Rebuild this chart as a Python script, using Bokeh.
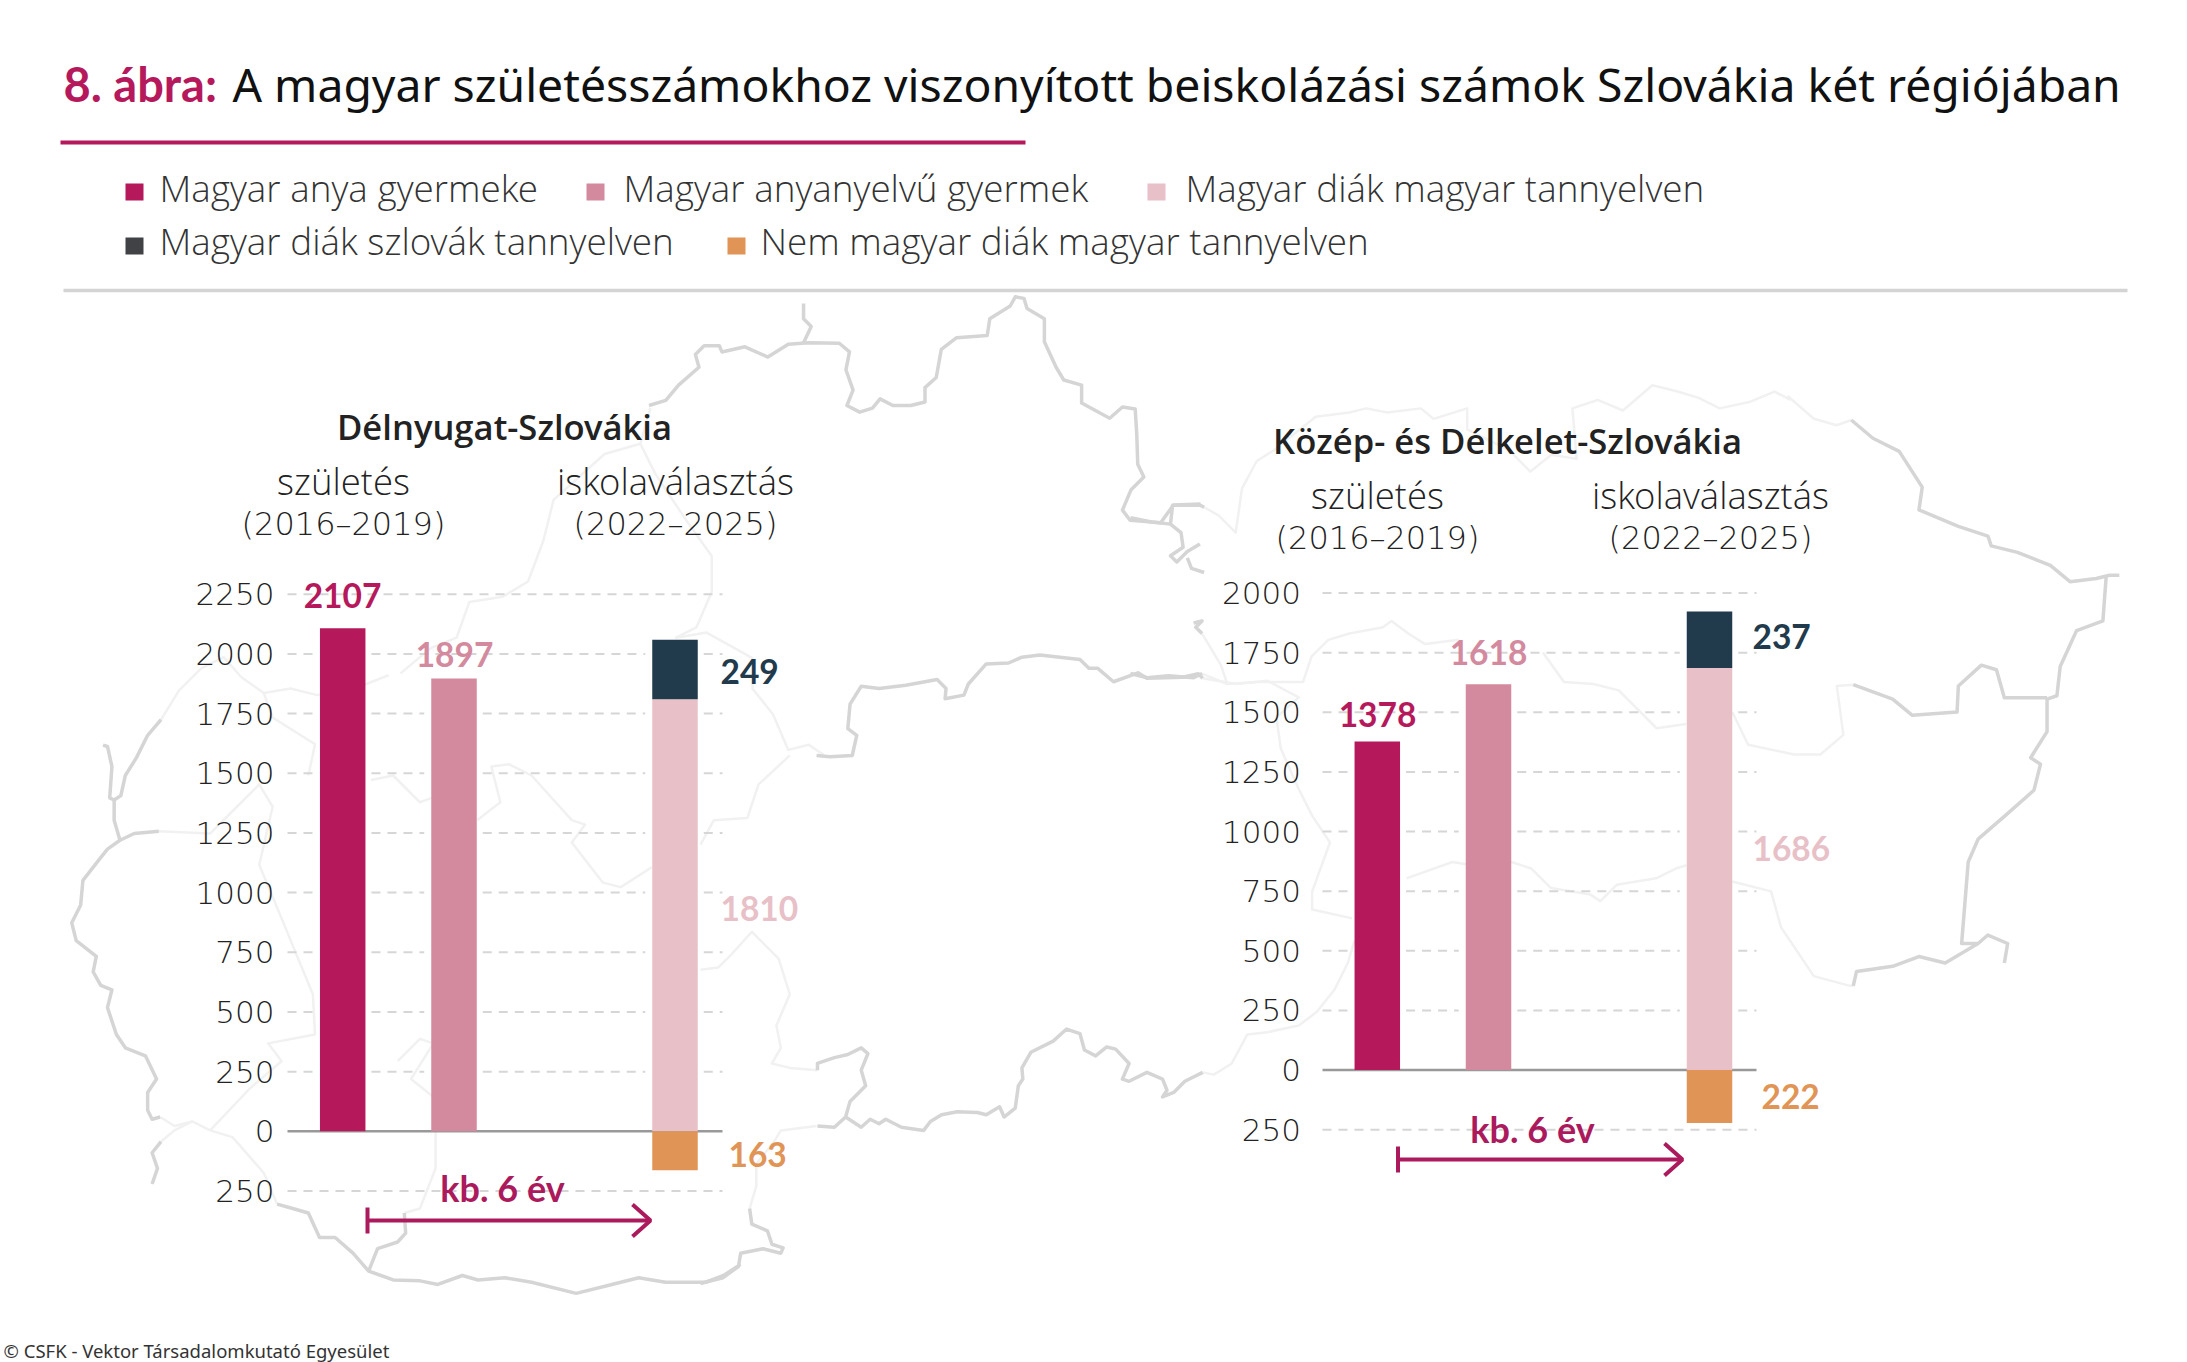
from bokeh.plotting import figure
from bokeh.models import Range1d, LinearAxis, FixedTicker
from bokeh.core.properties import value
from bokeh.embed import file_html
from bokeh.resources import INLINE

# ---------- data ----------
TICKS_LEFT = [-250, 0, 250, 500, 750, 1000, 1250, 1500, 1750, 2000, 2250]
TICKS_RIGHT = [-250, 0, 250, 500, 750, 1000, 1250, 1500, 1750, 2000]
LEFT_MOTHER = 2107
LEFT_NATIVE = 1897
LEFT_HU_SCHOOL = 1810
LEFT_SK_SCHOOL = 249
LEFT_NON_HU = 163
RIGHT_MOTHER = 1378
RIGHT_NATIVE = 1618
RIGHT_HU_SCHOOL = 1686
RIGHT_SK_SCHOOL = 237
RIGHT_NON_HU = 222
LEGEND = ["Magyar anya gyermeke", "Magyar anyanyelvű gyermek", "Magyar diák magyar tannyelven",
          "Magyar diák szlovák tannyelven", "Nem magyar diák magyar tannyelven"]

# ---------- colours / fonts ----------
MAG, PINK, LIGHT, NAVY, ORANGE = "#b5195c", "#d48a9e", "#e8c0c7", "#213a4c", "#e09456"
LEG_DARK = "#404245"
F_LIGHT = "Open Sans Light"
F_DIGIT = "DejaVu Sans Light"
F_REG = "Noto Sans"
F_SEMI = "Open Sans SemiBold"
F_VAL = "Lato"
W, H = 2187, 1362

p = figure(width=W, height=H, x_range=Range1d(0, W), y_range=Range1d(H, 0), output_backend="svg",
           toolbar_location=None, min_border=0, outline_line_color=None)
p.xaxis.visible = False
p.yaxis.visible = False
p.grid.visible = False


def z(pts, ox, oy, sx, sy=None):
    sy = sy or sx
    return [ox + a / sx for a, _ in pts], [oy + b / sy for _, b in pts]


Z4 = (40, 650, 2.24)
Z5 = (400, 280, 1.96)
Z6 = (700, 650, 2.24)
Z7 = (1130, 340, 1.522, 1.534)
Z8 = (1130, 370, 2.376)

STRONG = [
    (Z5, [(487,245),(520,235),(545,205),(585,170),(578,145),(595,128),(625,128),(630,140),(675,130),(720,150),(760,125),(800,122),(860,123),(880,140),(873,175),(887,215),(875,245),(900,258),(925,250),(940,232),(965,245),(1000,245),(1028,238),(1028,210),(1050,190),(1060,135),(1090,112),(1150,108),(1155,75),(1195,50),(1205,32),(1222,35),(1228,55),(1262,75),(1262,120),(1285,170),(1300,195),(1335,205),(1335,240),(1390,270),(1415,248),(1440,252),(1443,300),(1445,360),(1457,385),(1432,410),(1415,450),(1430,470),(1490,475),(1515,440),(1568,438)]),
    (Z5, [(790,45),(790,75),(805,90),(790,122)]),
    (Z8, [(0,350),(50,360),(95,365),(100,320),(165,320),(175,325)]),
    (Z8, [(95,365),(120,385),(125,420),(95,440),(110,455),(135,430),(165,412)]),
    (Z8, [(135,445),(145,470),(175,480)]),
    (Z8, [(0,720),(40,730),(90,725),(150,730),(170,720)]),
    (Z8, [(150,600),(170,595),(155,610),(170,625)]),
    (Z7, [(1097,122),(1130,150),(1170,170),(1205,225),(1200,260),(1260,285),(1305,300),(1310,315),(1350,325),(1400,345),(1430,370),(1470,365),(1490,360),(1505,360)]),
    (Z7, [(1485,362),(1480,430),(1440,445),(1415,500),(1410,545),(1395,550),(1395,600),(1370,640),(1385,650),(1375,690),(1330,730),(1290,765),(1275,800),(1265,925),(1290,925),(1305,912),(1335,925),(1330,955)]),
    (Z7, [(1395,548),(1330,548),(1318,505),(1295,498),(1260,530),(1258,570),(1190,575),(1160,550),(1100,528)]),
    (Z7, [(1100,990),(1105,968),(1160,960),(1200,945),(1240,955),(1265,940),(1290,925)]),
    (Z6, [(260,235),(290,238),(340,235),(350,190),(330,175),(335,120),(360,80),(400,85),(460,78),(530,65),(550,85),(548,108),(590,100),(600,75),(640,30),(690,28),(720,15),(760,10),(850,20),(870,40),(890,40),(925,70),(980,50),(1000,62),(1080,60),(1115,52),(1125,62)]),
    (Z6, [(262,940),(262,925),(300,912),(330,905),(360,890),(375,903),(360,940),(370,975),(335,1010),(325,1045),(300,1068),(262,1065)]),
    (Z6, [(325,1045),(360,1068),(380,1050),(400,1060),(415,1050),(450,1068),(500,1075),(515,1055),(540,1040),(575,1033),(620,1035),(640,1040),(670,1022),(680,1045),(705,1025),(712,975),(722,960),(720,935),(740,900),(790,875),(820,848),(850,858),(860,895),(885,908),(910,888),(930,893),(960,925),(945,960),(960,965),(1000,945),(1035,960),(1045,985),(1035,1000),(1060,990),(1085,965),(1125,945)]),
    (Z4, [(270,155),(240,190),(215,240),(190,280),(180,325),(165,335),(155,330),(160,260),(150,215),(140,212)]),
    (Z4, [(165,335),(165,380),(178,425),(150,445),(130,470),(95,515),(90,570),(70,610),(80,650),(125,685),(118,720),(135,750),(160,760),(150,800),(170,860),(190,890),(235,908),(260,960),(240,990),(240,1030),(250,1050),(268,1045)]),
    (Z4, [(178,425),(210,410),(265,405)]),
    (Z4, [(250,1195),(262,1160),(250,1125),(270,1100)]),
    (Z4, [(530,1240),(565,1250),(600,1260),(625,1315),(660,1315),(700,1350),(735,1390),(790,1410),(850,1412),(890,1420),(945,1400),(980,1410),(1040,1405),(1100,1415),(1200,1440),(1280,1420),(1340,1405),(1400,1415),(1490,1415),(1530,1400),(1568,1375)]),
    (Z4, [(735,1390),(755,1340),(800,1325),(818,1305),(815,1260)]),
    (Z6, [(0,1418),(50,1405),(85,1380),(90,1350),(140,1340),(180,1350),(185,1338),(160,1330),(150,1300),(115,1285),(110,1250)]),
]
FAINT = [
    (Z4, [(270,155),(310,90),(360,40),(410,15),(450,60),(500,95),(560,85),(620,100),(730,75),(780,55)]),
    (Z5, [(0,770),(60,720),(110,700),(135,630),(200,620),(250,590),(280,510),(300,430),(400,340),(470,320),(490,250)]),
    (Z5, [(470,320),(500,380),(560,470),(610,540),(610,610),(580,680),(540,700),(600,690),(690,740),(690,800),(730,850),(760,920),(800,910),(830,930)]),
    (Z6, [(200,235),(130,300),(105,375),(30,380),(0,435)]),
    (Z4, [(268,1045),(300,1065),(340,1055),(380,1075),(430,1090),(500,1170),(530,1240)]),
    (Z4, [(270,1100),(300,1075),(340,1055)]),
    (Z4, [(380,1075),(470,980),(540,920),(510,880),(615,860),(610,770),(540,600),(490,480),(520,350),(490,300),(440,350),(380,410),(265,405)]),
    (Z4, [(500,95),(520,150),(615,210),(600,280)]),
    (Z4, [(740,290),(790,280),(850,340),(876,330)]),
    (Z4, [(978,380),(1030,340),(1010,260),(1050,255),(1100,280),(1190,380),(1220,390),(1190,430),(1260,520),(1300,530),(1370,485)]),
    (Z4, [(800,920),(850,870),(880,880),(830,960),(880,1000),(885,1080),(885,1160),(850,1250),(815,1260)]),
    (Z6, [(0,715),(40,710),(70,680),(115,630),(175,690),(200,770),(170,840),(180,890),(160,925),(200,935),(262,940)]),
    (Z6, [(260,1065),(180,1075),(165,1100),(125,1150),(125,1200),(110,1250)]),
    (Z6, [(1125,945),(1150,950),(1190,925),(1225,860),(1270,855),(1340,840),(1380,810),(1420,760),(1450,700),(1465,650)]),
    (Z6, [(1125,62),(1200,75),(1270,68),(1340,105),(1290,150),(1300,220),(1340,310),(1370,370),(1410,430),(1370,540),(1370,580),(1460,600)]),
    (Z8, [(175,325),(210,345),(250,385),(265,280),(300,215),(340,190),(440,110),(520,100),(560,90),(610,100),(690,90),(720,115),(800,90),(800,140),(900,190),(950,240),(1000,200),(1060,210),(1050,90),(1110,70),(1170,95),(1240,35),(1300,50),(1350,65),(1400,90),(1470,75),(1530,50),(1568,70)]),
    (Z7, [(1000,85),(1040,120),(1075,130),(1097,122)]),
    (Z8, [(170,625),(185,650),(215,700),(230,745)]),
    (Z8, [(170,720),(230,745),(300,740),(410,740),(430,680),(470,640),(520,625),(600,610),(620,595),(660,625),(700,650),(780,640)]),
    (Z8, [(980,670),(1030,740),(1100,745),(1160,760),(1210,810),(1250,850),(1320,840)]),
    (Z7, [(916,570),(940,620),(1010,635),(1050,635),(1085,605),(1075,530),(1100,528)]),
    (Z7, [(420,825),(490,800),(550,810),(580,800),(610,810),(640,840),(700,850),(715,860),(740,835),(800,825),(830,810),(846,805)]),
    (Z7, [(916,830),(975,845),(990,900),(1040,975),(1095,990),(1100,990)]),
]
for origin, pts in FAINT:
    xs, ys = z(pts, *origin)
    p.line(xs, ys, line_color="#f1f1f1", line_width=2.5, line_join="round")
for origin, pts in STRONG:
    xs, ys = z(pts, *origin)
    p.line(xs, ys, line_color="#d5d5d5", line_width=3.5, line_join="round")


BASE_FIX = 0.24  # bokeh draws "alphabetic" text lower than asked, in ems


def txt(x, y, s, size, color, font=F_LIGHT, style="normal", align="left"):
    p.text(x=[x], y=[y - BASE_FIX * size], text=[s], text_font=value(font), text_font_size=f"{size}px", text_color=color,
           text_font_style=style, text_align=align, text_baseline="alphabetic")


# ---------- header ----------
txt(63, 95, "8. ábra:", 47, MAG, F_VAL, "bold")
txt(232, 95, "A magyar születésszámokhoz viszonyított beiskolázási számok Szlovákia két régiójában", 46.3, "#111111", F_REG)
p.line([60, 1025], [142, 142], line_color=MAG, line_width=4)
p.line([63, 2127], [290, 290], line_color="#d4d4d4", line_width=3.5)

leg = [(125, 159, 196, 200, MAG), (586, 623, 196, 200, PINK), (1147, 1185, 196, 200, LIGHT),
       (125, 159, 249, 254, LEG_DARK), (727, 760, 249, 254, ORANGE)]
for (sx, tx, ty, by, c), label in zip(leg, LEGEND):
    p.quad(left=[sx], right=[sx + 18], top=[by - 17], bottom=[by], fill_color=c, line_color=None)
    txt(tx, ty, label, 36.8, "#333333")

txt(3, 1354, "© CSFK - Vektor Társadalomkutató Egyesület", 18.5, "#333333", F_REG)


# ---------- panels ----------
def panel(name, zero, scale, ticks, axis_x, grid_x, xc, bw, vals, labels, heads, arrow, kb):
    p.extra_y_ranges[name] = Range1d(-(H - zero) / scale, zero / scale)
    ax = LinearAxis(y_range_name=name, ticker=FixedTicker(ticks=ticks), fixed_location=axis_x,
                    major_label_overrides={-250: "250"}, axis_line_color=None, major_tick_line_color=None,
                    minor_tick_line_color=None, major_label_standoff=0, major_label_text_font=F_DIGIT,
                    major_label_text_font_size="31px", major_label_text_color="#222222")
    p.add_layout(ax, "left")

    mother, native, hu, sk, non = vals
    spans = [(xc[0], 0, mother), (xc[1], 0, native), (xc[2], -non, hu + sk)]
    for t in ticks:
        if t == 0:
            continue
        start = grid_x[0]
        for c, lo, hi in spans:
            if lo < t < hi:
                p.line([start, c - bw / 2 - 7], [t, t], y_range_name=name, line_color="#d6d6d6", line_width=2, line_dash="9 7")
                start = c + bw / 2 + 6
        p.line([start, grid_x[1]], [t, t], y_range_name=name, line_color="#d6d6d6", line_width=2, line_dash="9 7")
    p.line(grid_x, [0, 0], y_range_name=name, line_color="#999999", line_width=2.5)

    p.vbar(x=[xc[0]], top=[mother], bottom=[0], width=bw, y_range_name=name, fill_color=MAG, line_color=None)
    p.vbar(x=[xc[1]], top=[native], bottom=[0], width=bw, y_range_name=name, fill_color=PINK, line_color=None)
    p.vbar(x=[xc[2]], top=[hu], bottom=[0], width=bw, y_range_name=name, fill_color=LIGHT, line_color=None)
    p.vbar(x=[xc[2]], top=[hu + sk], bottom=[hu], width=bw, y_range_name=name, fill_color=NAVY, line_color=None)
    p.vbar(x=[xc[2]], top=[0], bottom=[-non], width=bw, y_range_name=name, fill_color=ORANGE, line_color=None)

    colors = [MAG, PINK, LIGHT, NAVY, ORANGE]
    for (lx, ly, al), v, c in zip(labels, vals, colors):
        txt(lx, ly, str(v), 33.5, c, F_VAL, "bold", al)

    for (hx, hy, hs, fnt, st, al, col) in heads:
        txt(hx, hy, hs, fnt[0], col, fnt[1], st, al)

    ax0, ax1, ay = arrow
    col = "#ab1a5c"
    p.line([ax0, ax1], [ay, ay], line_color=col, line_width=4)
    p.line([ax0, ax0], [ay - 13, ay + 13], line_color=col, line_width=4)
    p.line([ax1 - 18, ax1, ax1 - 18], [ay - 16, ay, ay + 16], line_color=col, line_width=4)
    txt(kb[0], kb[1], "kb. 6 év", 36, col, F_VAL, "bold", "center")


panel("left", 1130.8, 0.2387, TICKS_LEFT, 280, [287, 722], [342.2, 453.5, 674.5], 45.5,
      [LEFT_MOTHER, LEFT_NATIVE, LEFT_HU_SCHOOL, LEFT_SK_SCHOOL, LEFT_NON_HU],
      [(342, 603, "center"), (454, 662, "center"), (720, 916, "left"), (720, 679, "left"), (728, 1162, "left")],
      [(504, 434, "Délnyugat-Szlovákia", (34.6, F_SEMI), "normal", "center", "#222222"),
       (343, 489, "születés", (36.5, F_LIGHT), "normal", "center", "#222222"),
       (343, 531, "(2016–2019)", (32, F_DIGIT), "normal", "center", "#222222"),
       (675, 489, "iskolaválasztás", (36.5, F_LIGHT), "normal", "center", "#222222"),
       (675, 531, "(2022–2025)", (32, F_DIGIT), "normal", "center", "#222222")],
      (367, 650, 1220), (502, 1196))
panel("right", 1069.6, 0.2385, TICKS_RIGHT, 1306.5, [1322, 1756], [1376.8, 1488, 1709], 45.5,
      [RIGHT_MOTHER, RIGHT_NATIVE, RIGHT_HU_SCHOOL, RIGHT_SK_SCHOOL, RIGHT_NON_HU],
      [(1377, 722, "center"), (1488, 660, "center"), (1752, 856, "left"), (1752, 644, "left"), (1761, 1104, "left")],
      [(1507, 448, "Közép- és Délkelet-Szlovákia", (34.6, F_SEMI), "normal", "center", "#222222"),
       (1377, 503, "születés", (36.5, F_LIGHT), "normal", "center", "#222222"),
       (1377, 545, "(2016–2019)", (32, F_DIGIT), "normal", "center", "#222222"),
       (1710, 503, "iskolaválasztás", (36.5, F_LIGHT), "normal", "center", "#222222"),
       (1710, 545, "(2022–2025)", (32, F_DIGIT), "normal", "center", "#222222")],
      (1397.5, 1682, 1159), (1532, 1137))

open("out.html", "w").write(file_html(p, INLINE))
